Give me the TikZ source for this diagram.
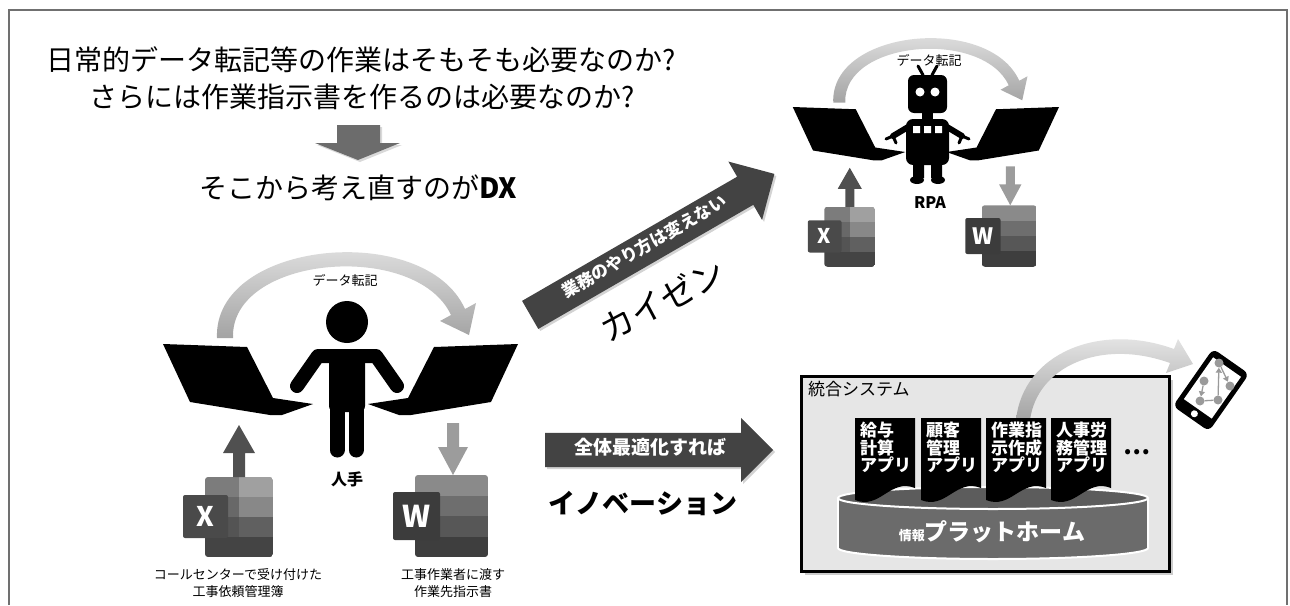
\documentclass[tikz,border=0pt]{standalone}
\usepackage{fontspec}
\setmainfont{Noto Sans CJK JP}
\usetikzlibrary{shapes.arrows,shadows,arrows.meta}

\definecolor{framegray}{HTML}{707070}
\definecolor{arrowgray}{HTML}{434343}
\definecolor{titlearrow}{HTML}{6C6C6C}
\definecolor{boxgray}{HTML}{E6E6E6}
\definecolor{cylgray}{HTML}{6B6B6B}
\definecolor{cyltop}{HTML}{5C5C5C}
\definecolor{xlsa}{HTML}{7C7C7C}
\definecolor{xlsb}{HTML}{A0A0A0}
\definecolor{xlsc}{HTML}{686868}
\definecolor{xlsd}{HTML}{888888}
\definecolor{xlse}{HTML}{545454}
\definecolor{xlsf}{HTML}{606060}
\definecolor{xlsg}{HTML}{444444}
\definecolor{xlsfront}{HTML}{4A4A4A}
\definecolor{xlsarrow}{HTML}{505050}
\definecolor{wda}{HTML}{8A8A8A}
\definecolor{wdb}{HTML}{6E6E6E}
\definecolor{wdc}{HTML}{575757}
\definecolor{wdd}{HTML}{3E3E3E}
\definecolor{wdfront}{HTML}{3C3C3C}
\definecolor{wdarrow}{HTML}{9C9C9C}
\definecolor{graphgray}{HTML}{9A9A9A}

\tikzset{
  laptop/.pic={\fill (0,0) -- (84,3) -- (110,54) -- (150,60) -- (119,71) -- (107,71) -- (27,58) -- cycle;},
  copyarc/.pic={\shade[top color=gray!12, bottom color=gray!72]
    (8,0) -- (-8,0) .. controls (-12,-98) and (200,-118) .. (240,-29)
    -- (251,-35) -- (244,-3) -- (215,-17) -- (226,-23)
    .. controls (191,-98) and (5,-83) .. (8,0) -- cycle;},
  xlsicon/.pic={
    \begin{scope}
      \clip[rounded corners=3] (0,0) rectangle (68,80);
      \fill[xlsa] (0,0) rectangle (34,20);  \fill[xlsb] (34,0) rectangle (68,20);
      \fill[xlsc] (0,20) rectangle (34,40); \fill[xlsd] (34,20) rectangle (68,40);
      \fill[xlse] (0,40) rectangle (34,60); \fill[xlsf] (34,40) rectangle (68,60);
      \fill[xlsg] (0,60) rectangle (68,80);
    \end{scope}
    \fill[xlsfront, rounded corners=2] (-22,18) rectangle (23,61);
    \node[text=white, font=\bfseries\fontsize{27}{27}\selectfont, transform shape] at (0.5,39.5) {X};
    \fill[xlsarrow] (28,0) -- (28,-24) -- (18,-24) -- (34,-52) -- (50,-24) -- (40,-24) -- (40,0) -- cycle;
  },
  docicon/.pic={
    \begin{scope}
      \clip[rounded corners=3] (0,0) rectangle (73,82);
      \fill[wda] (0,0) rectangle (73,20.5);
      \fill[wdb] (0,20.5) rectangle (73,41);
      \fill[wdc] (0,41) rectangle (73,61.5);
      \fill[wdd] (0,61.5) rectangle (73,82);
    \end{scope}
    \fill[wdfront, rounded corners=2] (-22,17) rectangle (25,65);
    \node[text=white, font=\bfseries\fontsize{30}{30}\selectfont, transform shape] at (1.5,41) {W};
    \fill[wdarrow] (32,-52) -- (44,-52) -- (44,-28) -- (53,-28) -- (38,0) -- (23,-28) -- (32,-28) -- cycle;
  },
  appdoc/.pic={
    \fill (0,0) -- (60,0) -- (60,70) .. controls (35,60) and (25,92) .. (0,82) -- cycle;
    \node[anchor=north west, align=left, inner sep=0, text=white,
      font=\bfseries\fontsize{17}{17.5}\selectfont] (-txt) at (5,4) {#1};
  },
  bigarrow/.style={single arrow, fill=arrowgray, text=white, single arrow head indent=0pt,
    text height=12pt, text depth=4pt, inner xsep=4pt,
    drop shadow={opacity=.35, shadow xshift=2pt, shadow yshift=-2pt}},
}

% laptops, arc and file icons around whoever does the copying
\newcommand\transcribe{%
  \pic at (163,344) {laptop};
  \pic[xscale=-1] at (518,344) {laptop};
  \pic at (225,338) {copyarc};
  \pic at (205,477) {xlsicon};
  \pic at (415,475) {docicon};
}

\begin{document}
\begin{tikzpicture}[x=1pt, y=-1pt]
\useasboundingbox (0,0) rectangle (1290,605);
\draw[framegray, line width=2pt] (9,605) -- (9,10) -- (1287,10) -- (1287,605);

\node[font=\fontsize{28}{28}\selectfont] (question) at (361,60) {日常的データ転記等の作業はそもそも必要なのか?};
\node[font=\fontsize{28}{28}\selectfont] (question2) at (362,97) {さらには作業指示書を作るのは必要なのか?};
\fill[titlearrow, drop shadow={opacity=.3, shadow xshift=2pt, shadow yshift=-2pt}]
  (337,125) -- (380,125) -- (380,143) -- (400,143) -- (358,160) -- (315,143) -- (337,143) -- cycle;
\node[font=\fontsize{28}{28}\selectfont] (rethink) at (358,188) {そこから考え直すのが\textbf{DX}};

% by hand
\transcribe
\node[font=\fontsize{13}{13}\selectfont] (hito-copy) at (345,280) {データ転記};
\fill (347,322) circle (21pt);
\draw[line width=14pt, line cap=round, line join=round] (297,386) -- (318,356) -- (376,356) -- (397,386);
\fill[rounded corners=6] (329,350) rectangle (365,412);
\draw[line width=15pt, line cap=round] (337,405) -- (337,450) (356,405) -- (356,450);
\node[font=\bfseries\fontsize{16}{16}\selectfont] (hito) at (347,479) {人手};
\node[align=center, font=\fontsize{13}{17}\selectfont] (xlsname) at (238,583) {コールセンターで受け付けた\\工事依頼管理簿};
\node[align=center, font=\fontsize{13}{17}\selectfont] (docname) at (453,583) {工事作業者に渡す\\作業先指示書};

% by robot
\begin{scope}[shift={(670.5,-151)}, scale=.75, transform shape]
  \transcribe
\end{scope}
\node[font=\fontsize{13}{13}\selectfont] (rpa-copy) at (929,60) {データ転記};
\fill[rounded corners=6] (908,75) rectangle (947,113);
\draw[line width=3pt, line cap=round] (923,75) -- (918,66) (932,75) -- (937,66);
\fill[white] (920,92) circle (4.5pt) (935,92) circle (4.5pt);
\fill (922,111) rectangle (933,120);
\fill[rounded corners=7] (906,119) rectangle (949,165);
\fill[white] (913,126) rectangle (920,133) (924,126) rectangle (931,133) (935,126) rectangle (942,133);
\draw[line width=6pt, line cap=round] (908,127) -- (893,136) (947,127) -- (962,136);
\draw[line width=3pt, line cap=round, line join=round] (886,139) -- (893,136) -- (896,143) (969,139) -- (962,136) -- (959,143);
\fill (913,163) rectangle (924,178) (931,163) rectangle (942,178);
\fill (917,180) ellipse [x radius=7pt, y radius=4pt] (938,180) ellipse [x radius=7pt, y radius=4pt];
\node[font=\bfseries\fontsize{16}{16}\selectfont] (rpa) at (930,203) {RPA};

% the two ways forward
\node[bigarrow, rotate=30, anchor=tail, minimum height=282pt, inner ysep=8pt,
  single arrow head extend=17.5pt, font=\bfseries\fontsize{17}{17}\selectfont] (kaizenarrow) at (530,315) {業務のやり方は変えない};
\node[rotate=28, font=\fontsize{34}{34}\selectfont] (kaizen) at (662,300) {カイゼン};
\node[bigarrow, anchor=tail, minimum height=228pt, inner ysep=9pt,
  single arrow head extend=15pt, font=\bfseries\fontsize{19}{19}\selectfont] (zentai) at (545,450) {全体最適化すれば};
\node[font=\bfseries\fontsize{27}{27}\selectfont] (innov) at (643,503) {イノベーション};

% integrated system
\node[draw, line width=2.5pt, fill=boxgray, inner sep=0, minimum width=368pt, minimum height=195pt, anchor=north west,
  drop shadow={opacity=.4, shadow xshift=4pt, shadow yshift=-4pt}] (togo) at (800,375) {};
\node[anchor=north west, inner sep=0, font=\fontsize{17}{17}\selectfont] (togolabel) at (808,381) {統合システム};
\fill[cylgray, draw=white, line width=2pt] (993,548) ellipse [x radius=155pt, y radius=11pt];
\fill[cylgray] (838,498) rectangle (1148,548);
\draw[white, line width=2pt] (838,498) -- (838,548) (1148,498) -- (1148,548);
\fill[cyltop, draw=white, line width=2pt] (993,498) ellipse [x radius=155pt, y radius=11pt];
\node[text=white] (platform) at (992,532) {{\bfseries\fontsize{13}{13}\selectfont 情報}{\bfseries\fontsize{23}{23}\selectfont プラットホーム}};
\shade[top color=gray!12, bottom color=gray!72]
  (1030,420) -- (1016,420) .. controls (1023,353) and (1100,322) .. (1174,349)
  -- (1178,339) -- (1193,364) -- (1166,373) -- (1170,363)
  .. controls (1100,338) and (1037,367) .. (1030,420) -- cycle;
\foreach \x/\t [count=\i] in {855/{給与\\計算\\アプリ}, 921/{顧客\\管理\\アプリ}, 986/{作業指\\示作成\\アプリ}, 1051/{人事労\\務管理\\アプリ}}
  \pic (app\i) at (\x,418) {appdoc={\t}};
\node[font=\bfseries\fontsize{24}{24}\selectfont] (more) at (1137,452) {…};

% smartphone
\begin{scope}[shift={(1211,390)}, rotate=-35]
  \fill[rounded corners=6] (-22,-35) rectangle (22,35);
  \fill[white] (-17,-28) rectangle (17,23);
  \fill[white] (0,29) circle (3.5pt);
\end{scope}
\foreach \n/\p in {g1/{(1219,363)}, g2/{(1230,386)}, g3/{(1204,381)}, g4/{(1200,401)}, g5/{(1218,400)}}
  \node[circle, fill=graphgray, inner sep=0, minimum size=9pt] (\n) at \p {};
\draw[graphgray, line width=1.3pt, -{Triangle[width=6pt,length=5pt]}] (g5) -- (g1);
\draw[graphgray, line width=1.3pt, -{Triangle[width=6pt,length=5pt]}] (g1) -- (g2);
\draw[graphgray, line width=1.3pt, -{Triangle[width=6pt,length=5pt]}] (g3) -- (g4);
\draw[graphgray, line width=1.3pt] (g4) -- (g5);
\end{tikzpicture}
\end{document}
